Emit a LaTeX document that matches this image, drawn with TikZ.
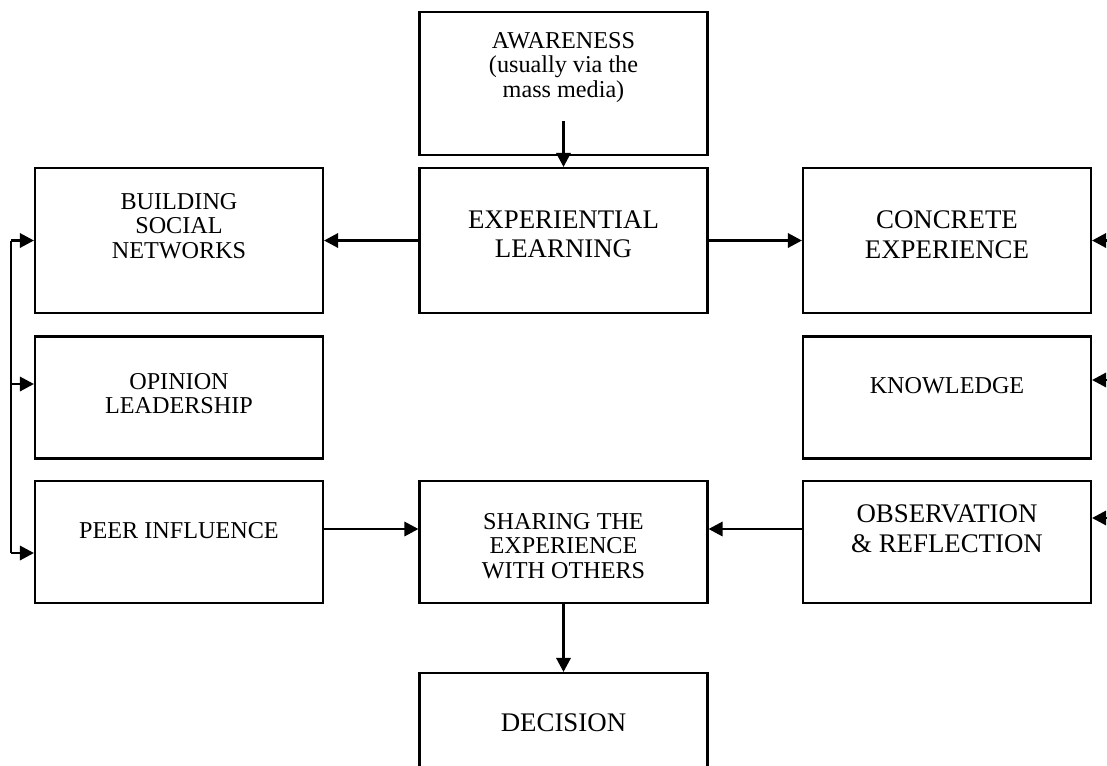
\documentclass[tikz,border=0pt]{standalone}
\usepackage{fontspec}
\setmainfont{Liberation Serif}
\usepackage{tikz}
\usetikzlibrary{arrows.meta,positioning,calc}

\newcommand{\boxsmall}{\fontsize{17.2}{17.4}\selectfont}
\newcommand{\boxlarge}{\fontsize{19.1}{21.3}\selectfont}

\tikzset{
    stagebox/.style={draw, line width=1.5pt, minimum width=7.2cm, inner sep=0pt},
    stagetxt/.style={anchor=north, inner sep=0pt, align=center},
    arr/.style={line width=1.5pt, -{Triangle[length=0.35cm,width=0.36cm]}},
}

\begin{document}
\begin{tikzpicture}[x=0.025cm,y=-0.025cm]
\useasboundingbox (0,0) rectangle (1107,765);
\clip (0,0) rectangle (1107,765);

\node [stagebox, minimum height=3.575cm] (aware) at (563.5,83.5) {};
\node [stagebox, minimum height=3.625cm] (exp) at (563.5,240.5) {};
\node [stagebox, minimum height=3.625cm] (build) at (179,240.5) {};
\node [stagebox, minimum height=3.625cm] (conc) at (947,240.5) {};
\node [stagebox, minimum height=3.05cm] (opin) at (179,397.5) {};
\node [stagebox, minimum height=3.05cm] (know) at (947,397.5) {};
\node [stagebox, minimum height=3.05cm] (peer) at (179,542) {};
\node [stagebox, minimum height=3.05cm] (share) at (563.5,542) {};
\node [stagebox, minimum height=3.05cm] (obs) at (947,542) {};
\node [stagebox, minimum height=3.5cm] (dec) at (563.5,743) {};

\node [stagetxt, font=\boxsmall] (aware-t) at (563.5,32) {AWARENESS\\(usually via the\\mass media)};
\node [stagetxt, font=\boxlarge] (exp-t) at (563.5,210) {EXPERIENTIAL\\LEARNING};
\node [stagetxt, font=\boxlarge] (conc-t) at (947,210) {CONCRETE\\EXPERIENCE};
\node [stagetxt, font=\boxsmall] (build-t) at (179,193) {BUILDING\\SOCIAL\\NETWORKS};
\node [stagetxt, font=\boxsmall] (opin-t) at (179,373) {OPINION\\LEADERSHIP};
\node [stagetxt, font=\boxsmall] (know-t) at (947,377) {KNOWLEDGE};
\node [stagetxt, font=\boxsmall] (peer-t) at (179,522) {PEER INFLUENCE};
\node [stagetxt, font=\boxsmall] (share-t) at (563.5,513) {SHARING THE\\EXPERIENCE\\WITH OTHERS};
\node [stagetxt, font=\boxlarge] (obs-t) at (947,504) {OBSERVATION\\\&~REFLECTION};
\node [stagetxt, font=\boxlarge] (dec-t) at (563.5,713) {DECISION};

\draw [arr] ([yshift=0.875cm]aware.south) -- (exp.north);
\draw [arr] (exp.west) -- (build.east);
\draw [arr] (exp.east) -- (conc.west);
\draw [arr] ([yshift=0.325cm]peer.east) -- ([yshift=0.325cm]share.west);
\draw [arr] ([yshift=0.325cm]obs.west) -- ([yshift=0.325cm]share.east);
\draw [arr] (share.south) -- (dec.north);

\coordinate (lbus) at (11,0);
\coordinate (b1) at (build.west);
\coordinate (b2) at ([yshift=0.3375cm]opin.west);
\coordinate (b3) at ([yshift=-0.275cm]peer.west);
\draw [line width=1.5pt] (lbus |- b1) -- (lbus |- b3);
\draw [arr] (lbus |- b1) -- (b1);
\draw [arr] (lbus |- b2) -- (b2);
\draw [arr] (lbus |- b3) -- (b3);

\coordinate (rbus) at (1107,0);
\coordinate (r1) at (conc.east);
\coordinate (r2) at ([yshift=0.4375cm]know.east);
\coordinate (r3) at ([yshift=0.6cm]obs.east);
\draw [arr] (rbus |- r1) -- (r1);
\draw [arr] (rbus |- r2) -- (r2);
\draw [arr] (rbus |- r3) -- (r3);

\end{tikzpicture}
\end{document}
